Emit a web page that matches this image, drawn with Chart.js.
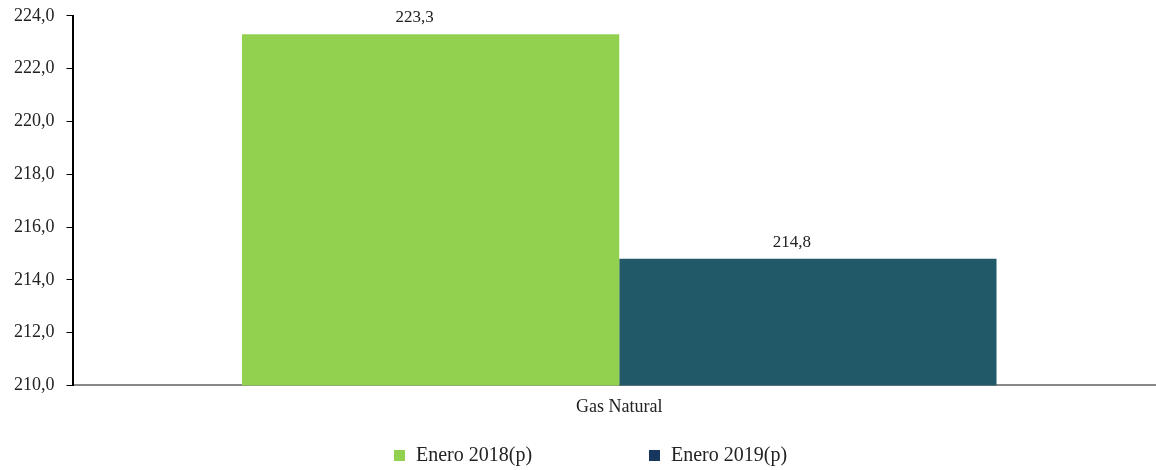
<!DOCTYPE html>
<html>
<head>
<meta charset="utf-8">
<script src="https://cdn.jsdelivr.net/npm/chart.js@4/dist/chart.umd.min.js"></script>
<style>
  html, body { margin: 0; padding: 0; background: #fff; overflow: hidden; }
  #wrap { width: 1166px; height: 477px; position: relative; margin-top: -7px; }
</style>
</head>
<body>
<div id="wrap"><canvas id="chart"></canvas></div>
<script>
// ── Data ──
const categories = ['Gas Natural'];
const seriesNames = ['Enero 2018(p)', 'Enero 2019(p)'];
const values2018 = [223.3];
const values2019 = [214.8];
const yTicks = [210, 212, 214, 216, 218, 220, 222, 224];

const FONT = "'Liberation Serif', 'DejaVu Serif', serif";
const barColors = ['#92d050', '#215968'];
const legendColors = ['#92d050', '#17375e'];

const fmt = v => v.toFixed(1).replace('.', ',');

// value above each bar (the source puts it a little left of centre)
const valueLabels = {
    id: 'valueLabels',
    afterDatasetsDraw(chart) {
        const ctx = chart.ctx;
        ctx.save();
        ctx.font = `17px ${FONT}`;
        ctx.fillStyle = '#222';
        ctx.textAlign = 'center';
        ctx.textBaseline = 'bottom';
        chart.data.datasets.forEach((ds, i) => {
            chart.getDatasetMeta(i).data.forEach((bar, j) => {
                ctx.fillText(fmt(ds.data[j]), bar.x - 16, bar.y - 8);
            });
        });
        ctx.restore();
    }
};

// bottom legend with wide spacing between the two entries
const wideLegend = {
    id: 'wideLegend',
    afterDraw(chart) {
        const ctx = chart.ctx;
        const step = 255;
        const startX = chart.width / 2 - 189;
        const y = chart.height - 14;
        ctx.save();
        ctx.font = `20px ${FONT}`;
        ctx.textBaseline = 'middle';
        chart.data.datasets.forEach((ds, i) => {
            const x = startX + i * step;
            ctx.fillStyle = legendColors[i];
            ctx.fillRect(x, y - 6, 11, 11);
            ctx.fillStyle = '#222';
            ctx.fillText(ds.label, x + 22, y);
        });
        ctx.restore();
    }
};

new Chart(document.getElementById('chart'), {
    type: 'bar',
    data: {
        labels: categories,
        datasets: [
            { label: seriesNames[0], data: values2018, backgroundColor: barColors[0] },
            { label: seriesNames[1], data: values2019, backgroundColor: barColors[1] }
        ]
    },
    options: {
        responsive: true,
        maintainAspectRatio: false,
        animation: false,
        layout: { padding: { top: 0, right: 0, left: 2, bottom: 49 } },
        datasets: { bar: { categoryPercentage: 0.69, barPercentage: 1 } },
        plugins: {
            tooltip: { enabled: false },
            legend: { display: false }
        },
        scales: {
            x: {
                grid: { display: false },
                border: { color: '#888', width: 2 },
                ticks: { font: { family: FONT, size: 18 }, color: '#222', padding: 3 }
            },
            y: {
                min: yTicks[0],
                max: yTicks[yTicks.length - 1],
                afterBuildTicks: axis => { axis.ticks = yTicks.map(v => ({ value: v })); },
                grid: { drawOnChartArea: false, color: '#000', tickLength: 6 },
                border: { color: '#000', width: 2 },
                ticks: {
                    font: { family: FONT, size: 18 },
                    color: '#222',
                    padding: 12,
                    callback: v => fmt(v)
                }
            }
        }
    },
    plugins: [valueLabels, wideLegend]
});
</script>
</body>
</html>
